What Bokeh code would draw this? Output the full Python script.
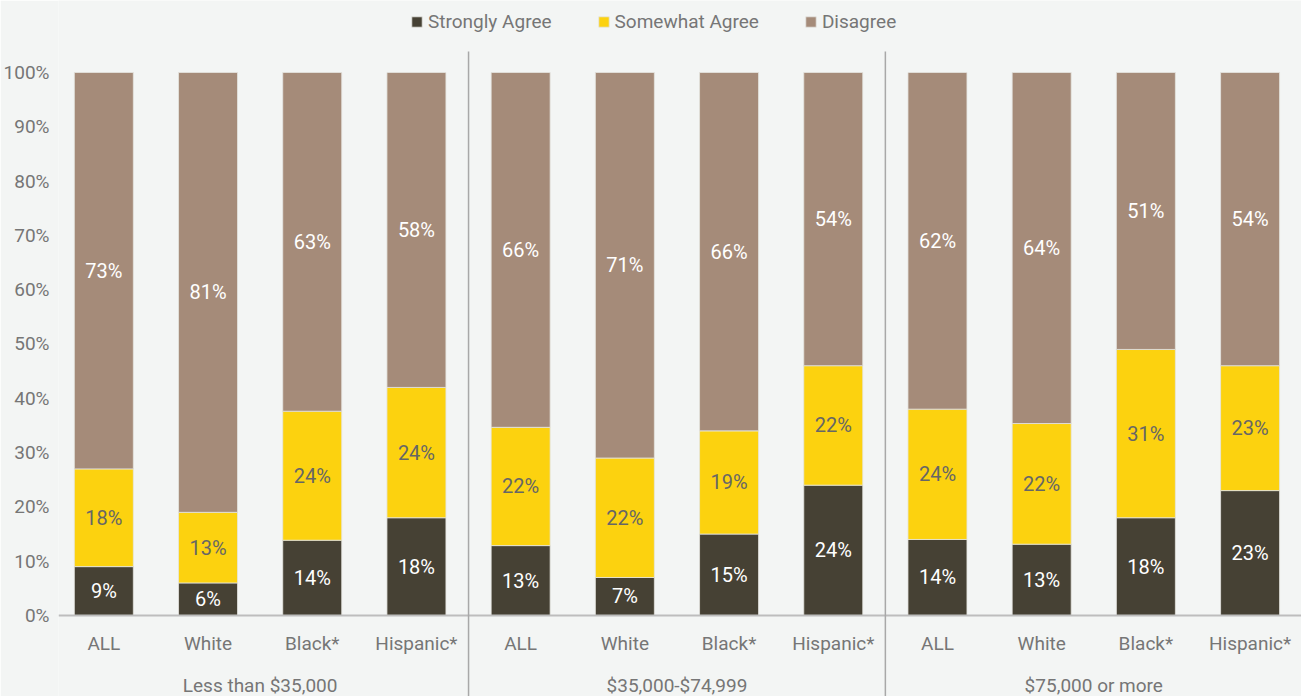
from bokeh.plotting import figure
from bokeh.models import (ColumnDataSource, Range1d, FixedTicker, PrintfTickFormatter,
                          Legend, LegendItem)
from bokeh.core.properties import value
from bokeh.embed import file_html
from bokeh.resources import INLINE

# ---- data ----
groups = ["Less than $35,000", "$35,000-$74,999", "$75,000 or more"]
categories = ["ALL", "White", "Black*", "Hispanic*"] * 3
strongly = [9, 6, 14, 18, 13, 7, 15, 24, 14, 13, 18, 23]
somewhat = [18, 13, 24, 24, 22, 22, 19, 22, 24, 22, 31, 23]
disagree = [73, 81, 63, 58, 66, 71, 66, 54, 62, 64, 51, 54]
series_names = ["Strongly Agree", "Somewhat Agree", "Disagree"]
y_ticks = list(range(0, 101, 10))

colors = ["#464134", "#fcd20f", "#a58b79"]
label_colors = ["#ffffff", "#666666", "#ffffff"]
FONT = "Roboto"
GREY = "#767676"
BG = "#f3f5f4"

X0, X1 = 0.065, 12.003
Y0, Y1 = -14.92, 113.26

n = len(categories)
xs = [i + 0.5 for i in range(n)]
totals = [a + b + c for a, b, c in zip(strongly, somewhat, disagree)]
norm = [[v / t * 100 for v, t in zip(s, totals)] for s in (strongly, somewhat, disagree)]

p = figure(frame_width=1244, frame_height=696, min_border_left=57, min_border_right=0,
           min_border_top=0, min_border_bottom=0,
           x_range=Range1d(X0, X1), y_range=Range1d(Y0, Y1),
           output_backend="svg", toolbar_location=None,
           background_fill_color=BG, border_fill_color=BG)
p.outline_line_color = None
p.xgrid.visible = False
p.ygrid.visible = False
p.xaxis.visible = False

ya = p.yaxis[0]
ya.ticker = FixedTicker(ticks=y_ticks)
ya.formatter = PrintfTickFormatter(format="%d%%")
ya.axis_line_color = None
ya.major_tick_line_color = None
ya.minor_tick_line_color = None
ya.major_label_standoff = 3
ya.major_label_text_font = FONT
ya.major_label_text_font_size = "19px"
ya.major_label_text_color = GREY

legend_items = []
bottoms = [0.0] * n
for k in range(3):
    tops = [b + v for b, v in zip(bottoms, norm[k])]
    raw = (strongly, somewhat, disagree)[k]
    src = ColumnDataSource(dict(x=xs, bottom=bottoms, top=tops,
                                mid=[(b + t) / 2 for b, t in zip(bottoms, tops)],
                                lab=[f"{v}%" for v in raw]))
    r = p.vbar(x="x", bottom="bottom", top="top", width=0.566, source=src,
               fill_color=colors[k], line_color="#e4e4e0", line_width=0.8)
    p.text(x="x", y="mid", text="lab", source=src, text_align="center",
           text_baseline="middle", text_font=value(FONT), text_font_size="20px",
           text_color=label_colors[k])
    legend_items.append(LegendItem(label=series_names[k], renderers=[r]))
    bottoms = tops

# baseline
p.segment(x0=[X0], y0=[0], x1=[X1], y1=[0], line_color="#bdbdbd", line_width=2)
# group separators
p.segment(x0=[4, 8], y0=[103.87, 103.87], x1=[4, 8], y1=[Y0, Y0],
          line_color="#a8a8a8", line_width=1.5)

# category labels
cat_src = ColumnDataSource(dict(x=xs, y=[-5.16] * n, t=categories))
p.text(x="x", y="y", text="t", source=cat_src, text_align="center",
       text_baseline="middle", text_font=value(FONT), text_font_size="19px",
       text_color=GREY)
grp_src = ColumnDataSource(dict(x=[2, 6, 10], y=[-12.9] * 3, t=groups))
p.text(x="x", y="y", text="t", source=grp_src, text_align="center",
       text_baseline="middle", text_font=value(FONT), text_font_size="19px",
       text_color=GREY)

legend = Legend(items=legend_items, orientation="horizontal", location=(352, 663),
                glyph_width=13, glyph_height=13, label_standoff=5, spacing=45,
                padding=0, margin=0, border_line_alpha=0, background_fill_alpha=0,
                label_text_font=FONT, label_text_font_size="19px",
                label_text_color=GREY)
p.add_layout(legend, "center")

open("out.html", "w").write(file_html(p, INLINE))
